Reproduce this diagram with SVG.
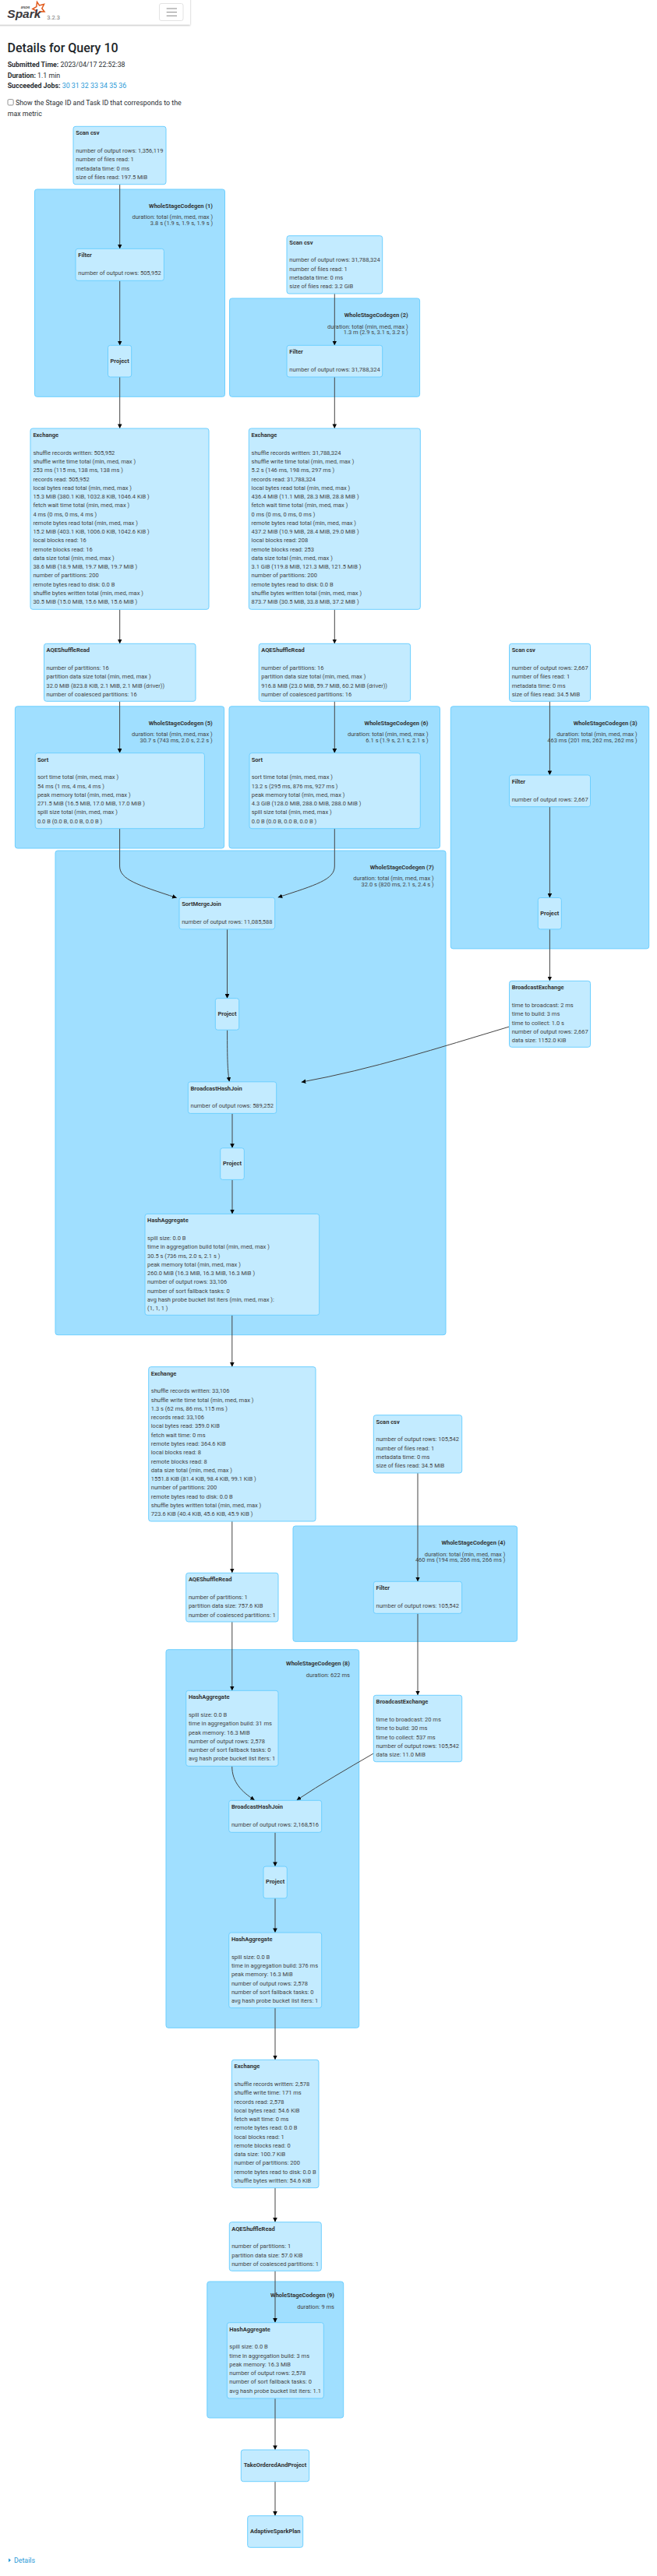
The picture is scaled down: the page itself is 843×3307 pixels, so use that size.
<svg xmlns="http://www.w3.org/2000/svg" width="843" height="3307" viewBox="0 0 843 3307">
<style>
text{font-family:Roboto,"Liberation Sans",sans-serif}
.page{font-size:8.82px;fill:#2b2f33}
.lnk{fill:#2a9ad8}
.h3{font-size:16px;font-weight:500;fill:#212529}
.cl rect{fill:#A0DFFF;stroke:#6DCFFF;stroke-width:1}
.cl text{font-size:7.5px;fill:#444;text-anchor:end}
.cl .t{font-weight:700;fill:#333}
.nd rect{fill:#C3EBFF;stroke:#6DCFFF;stroke-width:1}
.nd text{font-size:7.5px;fill:#444}
.nd .t{font-weight:700;fill:#333}
.nd .c{font-weight:700;text-anchor:middle;fill:#333}
.edges path{fill:none;stroke:#444;stroke-width:1;marker-end:url(#ah)}
</style>
<defs>
<marker id="ah" markerUnits="userSpaceOnUse" viewBox="0 0 10 10" refX="10" refY="5" markerWidth="5.6" markerHeight="5.6" orient="auto"><path d="M0 0L10 5L0 10z" fill="#000"/></marker>
<filter id="sh" x="-5%" y="-20%" width="110%" height="150%"><feDropShadow dx="0" dy="1" stdDeviation="1" flood-color="#000" flood-opacity=".3"/></filter>
</defs>
<rect width="843" height="3307" fill="#fff"/>
<g id="header">
<rect x="-4" y="-4" width="248" height="35.5" fill="#fff" filter="url(#sh)"/>
<polygon points="47.5,2.5 50.5,7 56.5,5.5 53.8,10.8 57,15 51,14.8 47.2,19.5 46,13.5 41.8,11.5 46.8,8.6" fill="none" stroke="#E25A1C" stroke-width="1.5"/>
<text x="9.3" y="23.4" font-size="15.5" font-weight="700" font-style="italic" fill="#3c3a3e" style="font-family:'Liberation Sans',sans-serif">Spark</text>
<text x="26.7" y="11.4" font-size="3" font-weight="700" fill="#3c3a3e">APACHE</text>
<text x="60.2" y="24.8" font-size="7.56" fill="#777">3.2.3</text>
<rect x="204.5" y="4.5" width="30.5" height="22" rx="2.5" fill="#fff" stroke="#e3e3e3" stroke-width="1"/>
<path d="M213.7 11H227M213.7 15.7H227M213.7 20.3H227" stroke="#888" stroke-width="1" fill="none"/>
</g>
<g id="summary">
<text class="h3" x="9.6" y="67.4">Details for Query 10</text>
<text class="page" x="9.7" y="86.3"><tspan font-weight="700">Submitted Time:</tspan> 2023/04/17 22:52:38</text>
<text class="page" x="9.7" y="99.6"><tspan font-weight="700">Duration:</tspan> 1.1 min</text>
<text class="page" x="9.7" y="112.8"><tspan font-weight="700">Succeeded Jobs:</tspan> <tspan class="lnk">30 31 32 33 34 35 36</tspan></text>
<rect x="10" y="127.6" width="7.2" height="7.4" rx="1.5" fill="#fff" stroke="#767676" stroke-width=".8"/>
<text class="page" x="20" y="135.4">Show the Stage ID and Task ID that corresponds to the</text>
<text class="page" x="9.7" y="148.6">max metric</text>
</g>
<g id="clusters">
<g class="cl" id="wsc1"><rect x="44.5" y="243" width="244" height="266.3" rx="3"/><text><tspan class="t" x="273" y="266.5">WholeStageCodegen (1)</tspan><tspan x="273" y="281.1">duration: total (min, med, max )</tspan><tspan x="273" y="288.7">3.8 s (1.9 s, 1.9 s, 1.9 s )</tspan></text></g>
<g class="cl" id="wsc2"><rect x="294.6" y="383" width="244" height="126.3" rx="3"/><text><tspan class="t" x="523.6" y="407">WholeStageCodegen (2)</tspan><tspan x="523.6" y="421.6">duration: total (min, med, max )</tspan><tspan x="523.6" y="429.2">1.3 m (2.9 s, 3.1 s, 3.2 s )</tspan></text></g>
<g class="cl" id="wsc5"><rect x="19.4" y="906.8" width="268.2" height="182.2" rx="3"/><text><tspan class="t" x="272.6" y="930.8">WholeStageCodegen (5)</tspan><tspan x="272.6" y="945.4">duration: total (min, med, max )</tspan><tspan x="272.6" y="953">30.7 s (743 ms, 2.0 s, 2.2 s )</tspan></text></g>
<g class="cl" id="wsc6"><rect x="294" y="906.8" width="270.5" height="182.2" rx="3"/><text><tspan class="t" x="549.5" y="930.8">WholeStageCodegen (6)</tspan><tspan x="549.5" y="945.4">duration: total (min, med, max )</tspan><tspan x="549.5" y="953">6.1 s (1.9 s, 2.1 s, 2.1 s )</tspan></text></g>
<g class="cl" id="wsc3"><rect x="578.3" y="906.8" width="254.4" height="311.1" rx="3"/><text><tspan class="t" x="817.7" y="930.8">WholeStageCodegen (3)</tspan><tspan x="817.7" y="945.4">duration: total (min, med, max )</tspan><tspan x="817.7" y="953">463 ms (201 ms, 262 ms, 262 ms )</tspan></text></g>
<g class="cl" id="wsc7"><rect x="71" y="1092" width="501" height="621.7" rx="3"/><text><tspan class="t" x="556.7" y="1115.6">WholeStageCodegen (7)</tspan><tspan x="556.7" y="1130.2">duration: total (min, med, max )</tspan><tspan x="556.7" y="1137.8">32.0 s (820 ms, 2.1 s, 2.4 s )</tspan></text></g>
<g class="cl" id="wsc4"><rect x="376" y="1959" width="287.6" height="148.3" rx="3"/><text><tspan class="t" x="648.3" y="1983">WholeStageCodegen (4)</tspan><tspan x="648.3" y="1997.6">duration: total (min, med, max )</tspan><tspan x="648.3" y="2005.2">460 ms (194 ms, 266 ms, 266 ms )</tspan></text></g>
<g class="cl" id="wsc8"><rect x="213" y="2117.7" width="247.7" height="485.6" rx="3"/><text><tspan class="t" x="449" y="2138">WholeStageCodegen (8)</tspan><tspan x="449" y="2152.6">duration: 622 ms</tspan></text></g>
<g class="cl" id="wsc9"><rect x="265.8" y="2929" width="174.9" height="175" rx="3"/><text><tspan class="t" x="429" y="2949.3">WholeStageCodegen (9)</tspan><tspan x="429" y="2964">duration: 9 ms</tspan></text></g>
</g>
<g class="edges" id="edges">
<path d="M153.7 236.7V319.3"/>
<path d="M153.7 360.3V443.3"/>
<path d="M153.7 484V550"/>
<path d="M429.3 377V443.3"/>
<path d="M429.3 484V550"/>
<path d="M153.7 782.3V826.3"/>
<path d="M429.3 782.3V826.3"/>
<path d="M153.6 900.3V966.7"/>
<path d="M429.3 900.3V966.7"/>
<path d="M705.4 900.3V995"/>
<path d="M705.4 1035.7V1152.5"/>
<path d="M705.4 1192.9V1259.3"/>
<path d="M153.6 1063.7V1112C153.6 1129 176 1136 226.7 1152.6"/>
<path d="M429.3 1063.7V1112C429.3 1129 406 1136 356.7 1152"/>
<path d="M291.5 1192.9V1281.7"/>
<path d="M291.6 1322.2C291.6 1360 292 1375 294.3 1388.6"/>
<path d="M653.5 1318C560 1346 480 1372 386.7 1389.2"/>
<path d="M298 1429.4V1473.8"/>
<path d="M298 1514.4V1558.4"/>
<path d="M297.8 1688.3V1754.7"/>
<path d="M297.8 1953V2019.3"/>
<path d="M297.8 2082V2170.3"/>
<path d="M536 1891V2030.3"/>
<path d="M536 2071.3V2176.3"/>
<path d="M297.7 2267.3C297.7 2288 310 2300 326.7 2311"/>
<path d="M479.3 2251C445 2271 412 2290 380.7 2311"/>
<path d="M353 2352.3V2396"/>
<path d="M353 2437V2481"/>
<path d="M353 2577.7V2644.3"/>
<path d="M353 2808.7V2852.7"/>
<path d="M353 2915.3V2981.7"/>
<path d="M353 3079V3145"/>
<path d="M353 3185.7V3229.7"/>
</g>
<g id="nodes">
<g class="nd" id="scan1" transform="translate(94,162.3)"><rect width="119" height="74.4" rx="3"/><text><tspan class="t" x="3.3" y="11">Scan csv</tspan><tspan x="3.3" y="33.7">number of output rows: 1,356,119</tspan><tspan x="3.3" dy="11.27">number of files read: 1</tspan><tspan x="3.3" dy="11.27">metadata time: 0 ms</tspan><tspan x="3.3" dy="11.27">size of files read: 197.5 MiB</tspan></text></g>
<g class="nd" id="filter1" transform="translate(97,319.3)"><rect width="113.4" height="41" rx="3"/><text><tspan class="t" x="3.3" y="11">Filter</tspan><tspan x="3.3" y="33.7">number of output rows: 505,952</tspan></text></g>
<g class="nd" id="project1" transform="translate(138.5,443.3)"><rect width="30.2" height="40.7" rx="3"/><text class="c" x="15.1" y="22.3">Project</text></g>
<g class="nd" id="scan2" transform="translate(368,302.7)"><rect width="122.7" height="74.3" rx="3"/><text><tspan class="t" x="3.3" y="11">Scan csv</tspan><tspan x="3.3" y="33.7">number of output rows: 31,788,324</tspan><tspan x="3.3" dy="11.27">number of files read: 1</tspan><tspan x="3.3" dy="11.27">metadata time: 0 ms</tspan><tspan x="3.3" dy="11.27">size of files read: 3.2 GiB</tspan></text></g>
<g class="nd" id="filter2" transform="translate(368,443.3)"><rect width="122.7" height="40.7" rx="3"/><text><tspan class="t" x="3.3" y="11">Filter</tspan><tspan x="3.3" y="33.7">number of output rows: 31,788,324</tspan></text></g>
<g class="nd" id="exchange1" transform="translate(39,550)"><rect width="229" height="232.3" rx="3"/><text><tspan class="t" x="3.4" y="11">Exchange</tspan><tspan x="3.4" y="33.7">shuffle records written: 505,952</tspan><tspan x="3.4" dy="11.27">shuffle write time total (min, med, max )</tspan><tspan x="3.4" dy="11.27">253 ms (115 ms, 138 ms, 138 ms )</tspan><tspan x="3.4" dy="11.27">records read: 505,952</tspan><tspan x="3.4" dy="11.27">local bytes read total (min, med, max )</tspan><tspan x="3.4" dy="11.27">15.3 MiB (380.1 KiB, 1032.8 KiB, 1046.4 KiB )</tspan><tspan x="3.4" dy="11.27">fetch wait time total (min, med, max )</tspan><tspan x="3.4" dy="11.27">4 ms (0 ms, 0 ms, 4 ms )</tspan><tspan x="3.4" dy="11.27">remote bytes read total (min, med, max )</tspan><tspan x="3.4" dy="11.27">15.2 MiB (403.1 KiB, 1006.0 KiB, 1042.6 KiB )</tspan><tspan x="3.4" dy="11.27">local blocks read: 16</tspan><tspan x="3.4" dy="11.27">remote blocks read: 16</tspan><tspan x="3.4" dy="11.27">data size total (min, med, max )</tspan><tspan x="3.4" dy="11.27">38.6 MiB (18.9 MiB, 19.7 MiB, 19.7 MiB )</tspan><tspan x="3.4" dy="11.27">number of partitions: 200</tspan><tspan x="3.4" dy="11.27">remote bytes read to disk: 0.0 B</tspan><tspan x="3.4" dy="11.27">shuffle bytes written total (min, med, max )</tspan><tspan x="3.4" dy="11.27">30.5 MiB (15.0 MiB, 15.6 MiB, 15.6 MiB )</tspan></text></g>
<g class="nd" id="exchange2" transform="translate(319.3,550)"><rect width="220" height="232.3" rx="3"/><text><tspan class="t" x="3.3" y="11">Exchange</tspan><tspan x="3.3" y="33.7">shuffle records written: 31,788,324</tspan><tspan x="3.3" dy="11.27">shuffle write time total (min, med, max )</tspan><tspan x="3.3" dy="11.27">5.2 s (146 ms, 198 ms, 297 ms )</tspan><tspan x="3.3" dy="11.27">records read: 31,788,324</tspan><tspan x="3.3" dy="11.27">local bytes read total (min, med, max )</tspan><tspan x="3.3" dy="11.27">436.4 MiB (11.1 MiB, 28.3 MiB, 28.8 MiB )</tspan><tspan x="3.3" dy="11.27">fetch wait time total (min, med, max )</tspan><tspan x="3.3" dy="11.27">0 ms (0 ms, 0 ms, 0 ms )</tspan><tspan x="3.3" dy="11.27">remote bytes read total (min, med, max )</tspan><tspan x="3.3" dy="11.27">437.2 MiB (10.9 MiB, 28.4 MiB, 29.0 MiB )</tspan><tspan x="3.3" dy="11.27">local blocks read: 208</tspan><tspan x="3.3" dy="11.27">remote blocks read: 253</tspan><tspan x="3.3" dy="11.27">data size total (min, med, max )</tspan><tspan x="3.3" dy="11.27">3.1 GiB (119.8 MiB, 121.3 MiB, 121.5 MiB )</tspan><tspan x="3.3" dy="11.27">number of partitions: 200</tspan><tspan x="3.3" dy="11.27">remote bytes read to disk: 0.0 B</tspan><tspan x="3.3" dy="11.27">shuffle bytes written total (min, med, max )</tspan><tspan x="3.3" dy="11.27">873.7 MiB (30.5 MiB, 33.8 MiB, 37.2 MiB )</tspan></text></g>
<g class="nd" id="aqe1" transform="translate(56.5,826.3)"><rect width="194.5" height="74" rx="3"/><text><tspan class="t" x="3" y="11">AQEShuffleRead</tspan><tspan x="3" y="33.7">number of partitions: 16</tspan><tspan x="3" dy="11.27">partition data size total (min, med, max )</tspan><tspan x="3" dy="11.27">32.0 MiB (823.8 KiB, 2.1 MiB, 2.1 MiB (driver))</tspan><tspan x="3" dy="11.27">number of coalesced partitions: 16</tspan></text></g>
<g class="nd" id="aqe2" transform="translate(332.2,826.3)"><rect width="194.4" height="74" rx="3"/><text><tspan class="t" x="3" y="11">AQEShuffleRead</tspan><tspan x="3" y="33.7">number of partitions: 16</tspan><tspan x="3" dy="11.27">partition data size total (min, med, max )</tspan><tspan x="3" dy="11.27">916.8 MiB (23.0 MiB, 59.7 MiB, 60.2 MiB (driver))</tspan><tspan x="3" dy="11.27">number of coalesced partitions: 16</tspan></text></g>
<g class="nd" id="scan3" transform="translate(653.5,826.3)"><rect width="104" height="74" rx="3"/><text><tspan class="t" x="3.2" y="11">Scan csv</tspan><tspan x="3.2" y="33.7">number of output rows: 2,667</tspan><tspan x="3.2" dy="11.27">number of files read: 1</tspan><tspan x="3.2" dy="11.27">metadata time: 0 ms</tspan><tspan x="3.2" dy="11.27">size of files read: 34.5 MiB</tspan></text></g>
<g class="nd" id="sort1" transform="translate(45.2,966.7)"><rect width="217.2" height="97" rx="3"/><text><tspan class="t" x="2.7" y="11">Sort</tspan><tspan x="2.7" y="33.7">sort time total (min, med, max )</tspan><tspan x="2.7" dy="11.27">54 ms (1 ms, 4 ms, 4 ms )</tspan><tspan x="2.7" dy="11.27">peak memory total (min, med, max )</tspan><tspan x="2.7" dy="11.27">271.5 MiB (16.5 MiB, 17.0 MiB, 17.0 MiB )</tspan><tspan x="2.7" dy="11.27">spill size total (min, med, max )</tspan><tspan x="2.7" dy="11.27">0.0 B (0.0 B, 0.0 B, 0.0 B )</tspan></text></g>
<g class="nd" id="sort2" transform="translate(320,966.7)"><rect width="219.3" height="97" rx="3"/><text><tspan class="t" x="2.7" y="11">Sort</tspan><tspan x="2.7" y="33.7">sort time total (min, med, max )</tspan><tspan x="2.7" dy="11.27">13.2 s (295 ms, 876 ms, 927 ms )</tspan><tspan x="2.7" dy="11.27">peak memory total (min, med, max )</tspan><tspan x="2.7" dy="11.27">4.3 GiB (128.0 MiB, 288.0 MiB, 288.0 MiB )</tspan><tspan x="2.7" dy="11.27">spill size total (min, med, max )</tspan><tspan x="2.7" dy="11.27">0.0 B (0.0 B, 0.0 B, 0.0 B )</tspan></text></g>
<g class="nd" id="filter3" transform="translate(653.5,995)"><rect width="104" height="40.7" rx="3"/><text><tspan class="t" x="3.2" y="11">Filter</tspan><tspan x="3.2" y="33.7">number of output rows: 2,667</tspan></text></g>
<g class="nd" id="project3" transform="translate(690.3,1152.5)"><rect width="30" height="40.4" rx="3"/><text class="c" x="15" y="22.3">Project</text></g>
<g class="nd" id="bex3" transform="translate(653.5,1259.3)"><rect width="104" height="85" rx="3"/><text><tspan class="t" x="3.2" y="11">BroadcastExchange</tspan><tspan x="3.2" y="33.7">time to broadcast: 2 ms</tspan><tspan x="3.2" dy="11.27">time to build: 3 ms</tspan><tspan x="3.2" dy="11.27">time to collect: 1.0 s</tspan><tspan x="3.2" dy="11.27">number of output rows: 2,667</tspan><tspan x="3.2" dy="11.27">data size: 1152.0 KiB</tspan></text></g>
<g class="nd" id="smj" transform="translate(230,1152.3)"><rect width="122.7" height="40.6" rx="3"/><text><tspan class="t" x="3.2" y="11">SortMergeJoin</tspan><tspan x="3.2" y="33.7">number of output rows: 11,085,588</tspan></text></g>
<g class="nd" id="project7a" transform="translate(276.3,1281.7)"><rect width="30.4" height="40.5" rx="3"/><text class="c" x="15.2" y="22.3">Project</text></g>
<g class="nd" id="bhj7" transform="translate(241.3,1388.8)"><rect width="113.4" height="40.6" rx="3"/><text><tspan class="t" x="3.2" y="11">BroadcastHashJoin</tspan><tspan x="3.2" y="33.7">number of output rows: 589,252</tspan></text></g>
<g class="nd" id="project7b" transform="translate(282.7,1473.8)"><rect width="30.6" height="40.6" rx="3"/><text class="c" x="15.3" y="22.3">Project</text></g>
<g class="nd" id="ha7" transform="translate(186,1558.4)"><rect width="223.7" height="129.9" rx="3"/><text><tspan class="t" x="3.1" y="11">HashAggregate</tspan><tspan x="3.1" y="33.7">spill size: 0.0 B</tspan><tspan x="3.1" dy="11.27">time in aggregation build total (min, med, max )</tspan><tspan x="3.1" dy="11.27">30.5 s (736 ms, 2.0 s, 2.1 s )</tspan><tspan x="3.1" dy="11.27">peak memory total (min, med, max )</tspan><tspan x="3.1" dy="11.27">260.0 MiB (16.3 MiB, 16.3 MiB, 16.3 MiB )</tspan><tspan x="3.1" dy="11.27">number of output rows: 33,106</tspan><tspan x="3.1" dy="11.27">number of sort fallback tasks: 0</tspan><tspan x="3.1" dy="11.27">avg hash probe bucket list iters (min, med, max ):</tspan><tspan x="3.1" dy="11.27">(1, 1, 1 )</tspan></text></g>
<g class="nd" id="exchange3" transform="translate(190.7,1754.7)"><rect width="214.3" height="198.3" rx="3"/><text><tspan class="t" x="3.1" y="11">Exchange</tspan><tspan x="3.1" y="33.7">shuffle records written: 33,106</tspan><tspan x="3.1" dy="11.27">shuffle write time total (min, med, max )</tspan><tspan x="3.1" dy="11.27">1.3 s (62 ms, 86 ms, 115 ms )</tspan><tspan x="3.1" dy="11.27">records read: 33,106</tspan><tspan x="3.1" dy="11.27">local bytes read: 359.0 KiB</tspan><tspan x="3.1" dy="11.27">fetch wait time: 0 ms</tspan><tspan x="3.1" dy="11.27">remote bytes read: 364.6 KiB</tspan><tspan x="3.1" dy="11.27">local blocks read: 8</tspan><tspan x="3.1" dy="11.27">remote blocks read: 8</tspan><tspan x="3.1" dy="11.27">data size total (min, med, max )</tspan><tspan x="3.1" dy="11.27">1551.8 KiB (81.4 KiB, 98.4 KiB, 99.1 KiB )</tspan><tspan x="3.1" dy="11.27">number of partitions: 200</tspan><tspan x="3.1" dy="11.27">remote bytes read to disk: 0.0 B</tspan><tspan x="3.1" dy="11.27">shuffle bytes written total (min, med, max )</tspan><tspan x="3.1" dy="11.27">723.6 KiB (40.4 KiB, 45.6 KiB, 45.9 KiB )</tspan></text></g>
<g class="nd" id="scan4" transform="translate(479.3,1816.7)"><rect width="113.4" height="74.3" rx="3"/><text><tspan class="t" x="3.3" y="11">Scan csv</tspan><tspan x="3.3" y="33.7">number of output rows: 105,542</tspan><tspan x="3.3" dy="11.27">number of files read: 1</tspan><tspan x="3.3" dy="11.27">metadata time: 0 ms</tspan><tspan x="3.3" dy="11.27">size of files read: 34.5 MiB</tspan></text></g>
<g class="nd" id="filter4" transform="translate(479.3,2030.3)"><rect width="113.4" height="41" rx="3"/><text><tspan class="t" x="3.3" y="11">Filter</tspan><tspan x="3.3" y="33.7">number of output rows: 105,542</tspan></text></g>
<g class="nd" id="bex4" transform="translate(479.3,2176.3)"><rect width="113.4" height="85.4" rx="3"/><text><tspan class="t" x="3.3" y="11">BroadcastExchange</tspan><tspan x="3.3" y="33.7">time to broadcast: 20 ms</tspan><tspan x="3.3" dy="11.27">time to build: 30 ms</tspan><tspan x="3.3" dy="11.27">time to collect: 537 ms</tspan><tspan x="3.3" dy="11.27">number of output rows: 105,542</tspan><tspan x="3.3" dy="11.27">data size: 11.0 MiB</tspan></text></g>
<g class="nd" id="aqe3" transform="translate(238.7,2019.3)"><rect width="118.3" height="62.7" rx="3"/><text><tspan class="t" x="3.2" y="11">AQEShuffleRead</tspan><tspan x="3.2" y="33.7">number of partitions: 1</tspan><tspan x="3.2" dy="11.27">partition data size: 757.6 KiB</tspan><tspan x="3.2" dy="11.27">number of coalesced partitions: 1</tspan></text></g>
<g class="nd" id="ha8a" transform="translate(238.7,2170.3)"><rect width="118.3" height="97" rx="3"/><text><tspan class="t" x="3.2" y="11">HashAggregate</tspan><tspan x="3.2" y="33.7">spill size: 0.0 B</tspan><tspan x="3.2" dy="11.27">time in aggregation build: 31 ms</tspan><tspan x="3.2" dy="11.27">peak memory: 16.3 MiB</tspan><tspan x="3.2" dy="11.27">number of output rows: 2,578</tspan><tspan x="3.2" dy="11.27">number of sort fallback tasks: 0</tspan><tspan x="3.2" dy="11.27">avg hash probe bucket list iters: 1</tspan></text></g>
<g class="nd" id="bhj8" transform="translate(293.7,2311.3)"><rect width="119" height="41" rx="3"/><text><tspan class="t" x="3.2" y="11">BroadcastHashJoin</tspan><tspan x="3.2" y="33.7">number of output rows: 2,168,516</tspan></text></g>
<g class="nd" id="project8" transform="translate(338,2396)"><rect width="30.3" height="41" rx="3"/><text class="c" x="15.2" y="22.3">Project</text></g>
<g class="nd" id="ha8b" transform="translate(293.7,2481)"><rect width="119" height="96.7" rx="3"/><text><tspan class="t" x="3.2" y="11">HashAggregate</tspan><tspan x="3.2" y="33.7">spill size: 0.0 B</tspan><tspan x="3.2" dy="11.27">time in aggregation build: 376 ms</tspan><tspan x="3.2" dy="11.27">peak memory: 16.3 MiB</tspan><tspan x="3.2" dy="11.27">number of output rows: 2,578</tspan><tspan x="3.2" dy="11.27">number of sort fallback tasks: 0</tspan><tspan x="3.2" dy="11.27">avg hash probe bucket list iters: 1</tspan></text></g>
<g class="nd" id="exchange4" transform="translate(297.3,2644.3)"><rect width="111.7" height="164.4" rx="3"/><text><tspan class="t" x="3.3" y="11">Exchange</tspan><tspan x="3.3" y="33.7">shuffle records written: 2,578</tspan><tspan x="3.3" dy="11.27">shuffle write time: 171 ms</tspan><tspan x="3.3" dy="11.27">records read: 2,578</tspan><tspan x="3.3" dy="11.27">local bytes read: 54.6 KiB</tspan><tspan x="3.3" dy="11.27">fetch wait time: 0 ms</tspan><tspan x="3.3" dy="11.27">remote bytes read: 0.0 B</tspan><tspan x="3.3" dy="11.27">local blocks read: 1</tspan><tspan x="3.3" dy="11.27">remote blocks read: 0</tspan><tspan x="3.3" dy="11.27">data size: 100.7 KiB</tspan><tspan x="3.3" dy="11.27">number of partitions: 200</tspan><tspan x="3.3" dy="11.27">remote bytes read to disk: 0.0 B</tspan><tspan x="3.3" dy="11.27">shuffle bytes written: 54.6 KiB</tspan></text></g>
<g class="nd" id="aqe4" transform="translate(294.3,2852.7)"><rect width="118" height="62.6" rx="3"/><text><tspan class="t" x="2.9" y="11">AQEShuffleRead</tspan><tspan x="2.9" y="33.7">number of partitions: 1</tspan><tspan x="2.9" dy="11.27">partition data size: 57.0 KiB</tspan><tspan x="2.9" dy="11.27">number of coalesced partitions: 1</tspan></text></g>
<g class="nd" id="ha9" transform="translate(291.3,2981.7)"><rect width="124" height="97.3" rx="3"/><text><tspan class="t" x="3" y="11">HashAggregate</tspan><tspan x="3" y="33.7">spill size: 0.0 B</tspan><tspan x="3" dy="11.27">time in aggregation build: 3 ms</tspan><tspan x="3" dy="11.27">peak memory: 16.3 MiB</tspan><tspan x="3" dy="11.27">number of output rows: 2,578</tspan><tspan x="3" dy="11.27">number of sort fallback tasks: 0</tspan><tspan x="3" dy="11.27">avg hash probe bucket list iters: 1.1</tspan></text></g>
<g class="nd" id="takeordered" transform="translate(309.3,3145)"><rect width="87.4" height="40.7" rx="3"/><text class="c" x="43.7" y="22.3">TakeOrderedAndProject</text></g>
<g class="nd" id="adaptive" transform="translate(317.7,3229.7)"><rect width="71" height="40.6" rx="3"/><text class="c" x="35.5" y="22.3">AdaptiveSparkPlan</text></g>
</g>
<g id="details">
<polygon points="11,3284.3 14,3286.8 11,3289.3" fill="#2a9ad8"/>
<text class="page lnk" x="18" y="3289.7">Details</text>
</g>
</svg>
